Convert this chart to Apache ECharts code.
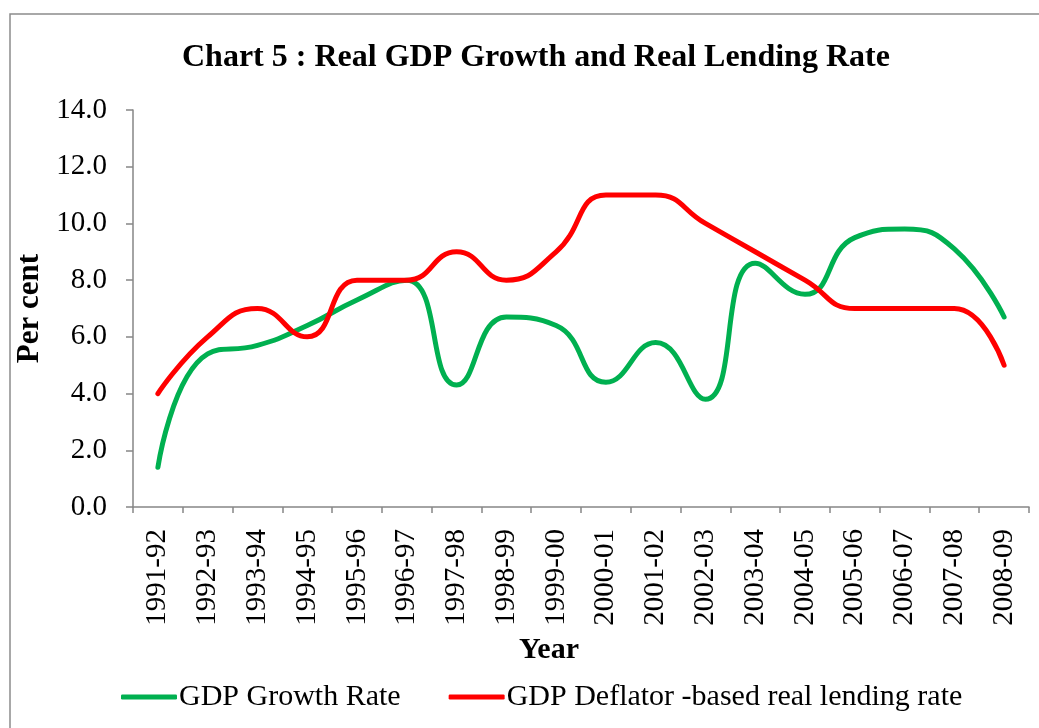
<!DOCTYPE html>
<html><head><meta charset="utf-8">
<script src="https://cdn.jsdelivr.net/npm/echarts@6/dist/echarts.min.js"></script>
<style>html,body{margin:0;padding:0;background:#fff}#c{width:1039px;height:728px}</style>
</head><body><div id="c"></div>
<script>
const years = ['1991-92','1992-93','1993-94','1994-95','1995-96','1996-97','1997-98','1998-99','1999-00','2000-01','2001-02','2002-03','2003-04','2004-05','2005-06','2006-07','2007-08','2008-09'];
const gdpGrowth = [1.4,5.4,5.7,6.4,7.3,8.0,4.3,6.7,6.4,4.4,5.8,3.8,8.6,7.5,9.5,9.8,9.1,6.7];
const realLending = [4.0,6.0,7.0,6.0,8.0,8.0,9.0,8.0,9.0,11.0,11.0,10.0,9.0,8.0,7.0,7.0,7.0,5.0];
const yTicks = {min:0, max:14, interval:2};

const font = '"Liberation Serif", "Times New Roman", serif';
const chart = echarts.init(document.getElementById('c'));
chart.setOption({
  animation:false,
  backgroundColor:'#fff',
  graphic:[{type:'rect', shape:{x:10, y:14, width:1100, height:800}, style:{fill:'none', stroke:'#8c8c8c', lineWidth:1.5}, silent:true}],
  title:{text:'Chart 5 : Real GDP Growth and Real Lending Rate', left:177, top:37,
    textStyle:{fontFamily:font, fontWeight:'bold', fontSize:32, color:'#000'}},
  grid:{left:133, right:10, top:110, bottom:221, containLabel:false},
  legend:{top:677, left:116, itemWidth:56, itemHeight:5, itemGap:48, icon:'roundRect',
    textStyle:{fontFamily:font, fontSize:30, color:'#000', padding:[0,0,0,-3]},
    data:['GDP Growth Rate','GDP Deflator -based real lending rate']},
  xAxis:{type:'category', data:years, boundaryGap:true,
    name:'Year', nameLocation:'middle', nameGap:128,
    nameTextStyle:{fontFamily:font, fontWeight:'bold', fontSize:30, color:'#000', padding:[0,64,0,0]},
    axisLine:{lineStyle:{color:'#868686', width:1.5}},
    axisTick:{show:true, alignWithLabel:false, length:6, lineStyle:{color:'#868686', width:1.5}},
    axisLabel:{rotate:90, fontFamily:font, fontSize:29, color:'#000', margin:22, interval:0}},
  yAxis:{type:'value', min:yTicks.min, max:yTicks.max, interval:yTicks.interval,
    name:'Per cent', nameLocation:'middle', nameGap:78, nameRotate:90,
    nameTextStyle:{fontFamily:font, fontWeight:'bold', fontSize:31, color:'#000'},
    axisLine:{show:true, lineStyle:{color:'#868686', width:1.5}},
    axisTick:{show:true, length:7, lineStyle:{color:'#868686', width:1.5}},
    splitLine:{show:false},
    axisLabel:{fontFamily:font, fontSize:29, color:'#000', margin:26, formatter:v=>v.toFixed(1)}},
  series:[
    {name:'GDP Growth Rate', type:'line', data:gdpGrowth, smooth:0.5, showSymbol:false,
      itemStyle:{color:'#00B050'}, lineStyle:{color:'#00B050', width:5, cap:'round', join:'round'}},
    {name:'GDP Deflator -based real lending rate', type:'line', data:realLending, smooth:0.5, showSymbol:false,
      itemStyle:{color:'#FF0000'}, lineStyle:{color:'#FF0000', width:5, cap:'round', join:'round'}}
  ]
});
</script></body></html>
